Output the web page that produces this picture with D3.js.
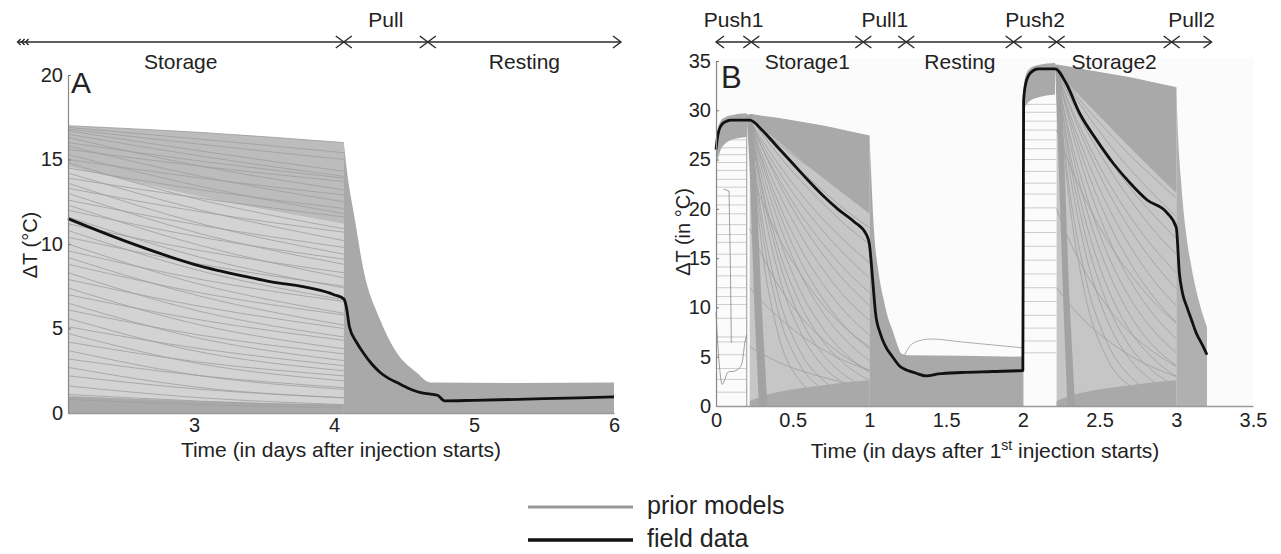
<!DOCTYPE html>
<html>
<head>
<meta charset="utf-8">
<script src="https://cdn.jsdelivr.net/npm/d3@7"></script>
<style>
  body { margin: 0; background: #fff; }
  svg { display: block; font-family: "Liberation Sans", Arial, sans-serif; }
</style>
</head>
<body>
<svg id="chart" width="1281" height="554"></svg>
<script>
// ---------------- Panel A: single storage / pull / resting cycle ----------------
const phaseA_labels = ["Storage", "Pull", "Resting"];
const phaseA_bounds = [1.74, 4.07, 4.67, 6.05];          // days
const ticksA_x = [3, 4, 5, 6];
const ticksA_y = [0, 5, 10, 15, 20];

const fieldA_t = [2.1, 2.5, 3.0, 3.5, 4.0, 4.07, 4.09, 4.11, 4.16, 4.21, 4.27, 4.33, 4.39, 4.45,
                  4.51, 4.56, 4.62, 4.69, 4.74, 4.79, 5.0, 5.5, 6.0];
const fieldA_v = [11.5, 10.2, 8.8, 7.85, 7.0, 6.75, 6.2, 5.1, 4.2, 3.55, 2.9, 2.4, 2.05, 1.8,
                  1.55, 1.36, 1.2, 1.12, 1.05, 0.72, 0.75, 0.85, 0.95];

// prior models during storage: value at storage start, middle, end
const priorA_t = [2.1, 3.05, 4.07];
const priorA_storage = [
  [17.0, 16.6, 16.0], [16.9, 16.2, 15.4], [16.8, 15.9, 15.0], [16.7, 15.5, 14.3],
  [16.5, 15.2, 14.0], [16.3, 14.6, 13.2], [16.0, 14.9, 13.9], [15.8, 14.0, 12.5],
  [15.6, 14.6, 13.7], [15.3, 13.4, 11.8], [15.0, 13.9, 12.9], [14.8, 12.6, 10.9],
  [14.5, 13.2, 12.1], [14.2, 12.0, 10.2], [13.9, 12.7, 11.6], [13.6, 11.2, 9.4],
  [13.3, 11.9, 10.7], [13.0, 10.6, 8.8], [12.6, 11.1, 9.8], [12.3, 9.9, 8.0],
  [12.0, 10.4, 9.1], [11.6, 9.2, 7.4], [11.2, 9.6, 8.3], [10.8, 8.4, 6.7],
  [10.4, 8.8, 7.5], [10.0, 7.6, 5.9], [9.6, 7.9, 6.6], [9.2, 6.9, 5.2],
  [8.8, 7.1, 5.8], [8.3, 6.0, 4.5], [7.9, 6.3, 5.0], [7.4, 5.2, 3.8],
  [7.0, 5.5, 4.3], [6.5, 4.4, 3.1], [6.1, 4.6, 3.5], [5.6, 3.6, 2.5],
  [5.1, 3.8, 2.8], [4.7, 2.9, 1.9], [4.2, 3.0, 2.2], [3.7, 2.2, 1.4],
  [3.2, 2.2, 1.5], [2.7, 1.5, 0.9], [2.2, 1.4, 0.9], [1.6, 0.9, 0.5],
  [1.1, 0.7, 0.4], [0.8, 0.5, 0.3]
];
const bandA_topHi = [17.0, 16.6, 16.0];
const bandA_topLo = [14.6, 12.8, 11.2];
const bandA_bottomHi = [1.0, 0.7, 0.5];

// ensemble envelope through pull and resting
const envA_t = [4.07, 4.09, 4.15, 4.21, 4.33, 4.45, 4.59, 4.69, 5.3, 6.0];
const envA_hi = [16.0, 14.5, 11.4, 8.5, 5.5, 3.55, 2.4, 1.8, 1.78, 1.8];

// ---------------- Panel B: two push / storage / pull cycles ----------------
const phaseB_labels = ["Push1", "Storage1", "Pull1", "Resting", "Push2", "Storage2", "Pull2"];
const phaseB_bounds = [0, 0.23, 0.96, 1.24, 1.94, 2.22, 2.97, 3.23];
const ticksB_x = [0, 0.5, 1, 1.5, 2, 2.5, 3, 3.5];
const ticksB_y = [0, 5, 10, 15, 20, 25, 30, 35];

const fieldB_t = [0, 0.01, 0.02, 0.04, 0.07, 0.1, 0.15, 0.22, 0.3, 0.4, 0.5, 0.6, 0.7, 0.8, 0.9,
                  0.98, 1.0, 1.02, 1.04, 1.07, 1.1, 1.15, 1.2, 1.25, 1.3, 1.37, 1.45, 1.6, 1.8,
                  2.0, 2.005, 2.02, 2.05, 2.1, 2.15, 2.21, 2.28, 2.37, 2.48, 2.59, 2.7, 2.81,
                  2.94, 3.0, 3.02, 3.04, 3.07, 3.1, 3.13, 3.17, 3.2];
const fieldB_v = [26.0, 27.3, 28.0, 28.6, 28.9, 29.0, 29.0, 29.0, 28.0, 26.3, 24.6, 22.9, 21.3,
                  19.9, 18.7, 17.4, 16.4, 13.0, 9.4, 7.4, 6.2, 5.0, 4.0, 3.6, 3.35, 3.05, 3.25,
                  3.4, 3.5, 3.6, 31.0, 32.8, 33.8, 34.2, 34.2, 34.2, 32.8, 29.7, 27.0, 24.6,
                  22.6, 20.9, 19.6, 18.1, 13.5, 11.5, 10.0, 8.7, 7.4, 6.2, 5.2];

// push 1
const push1_t = [0, 0.01, 0.03, 0.06, 0.1, 0.2];
const bandB_push1Hi = [27.0, 28.0, 28.9, 29.3, 29.5, 29.7];
const bandB_push1Lo = [24.5, 25.0, 26.0, 26.6, 27.0, 27.3];
const levelsB_push1 = [27.0, 26.2, 25.5, 24.7, 23.9, 23.0, 22.2, 21.3, 20.4, 19.5, 18.4, 17.4,
                       16.6, 15.4, 14.1, 13.2, 12.0, 11.1, 10.3, 8.9, 7.0, 6.5, 5.2, 3.8, 2.7, 1.4];
const oddB_a_t = [0.0, 0.02, 0.04, 0.06, 0.075, 0.09, 0.11, 0.13, 0.15, 0.17, 0.19, 0.2];
const oddB_a_v = [9.5, 4.5, 2.2, 2.8, 3.4, 3.5, 3.5, 3.6, 3.8, 4.4, 6.6, 7.2];
const oddB_b_t = [0.05, 0.085, 0.095, 0.1];
const oddB_b_v = [22.0, 21.8, 13.0, 6.4];

// storage 1
const storage1_t = [0.22, 0.30, 0.40, 0.55, 0.70, 0.85, 1.0];
const priorB_storage1 = [
  [29.6, 29.4, 29.2, 28.8, 28.4, 27.9, 27.4],
  [29.4, 29.1, 28.7, 28.1, 27.6, 27.0, 26.5],
  [29.5, 29.0, 28.4, 27.5, 26.7, 25.9, 25.1],
  [29.2, 28.5, 27.7, 26.6, 25.5, 24.4, 23.4],
  [29.3, 28.4, 27.4, 25.9, 24.6, 23.2, 22.0],
  [29.0, 28.0, 26.7, 24.9, 23.3, 21.7, 20.3],
  [29.2, 27.8, 26.1, 23.9, 21.8, 19.8, 18.1],
  [29.3, 27.6, 25.6, 22.9, 20.5, 18.3, 16.4],
  [29.0, 27.0, 24.7, 21.6, 18.9, 16.6, 14.5],
  [28.9, 26.6, 24.0, 20.6, 17.7, 15.2, 13.0],
  [28.8, 26.2, 23.3, 19.5, 16.4, 13.7, 11.5],
  [29.2, 26.2, 22.9, 18.7, 15.3, 12.5, 10.2],
  [28.9, 25.5, 21.9, 17.4, 13.8, 10.9, 8.7],
  [28.8, 25.0, 20.9, 16.0, 12.3, 9.4, 7.2],
  [29.1, 24.7, 20.1, 14.7, 10.8, 7.9, 5.8],
  [29.0, 24.0, 19.0, 13.4, 9.4, 6.6, 4.6],
  [28.7, 23.1, 17.6, 11.7, 7.8, 5.2, 3.4],
  [28.5, 22.2, 16.3, 10.3, 6.5, 4.1, 2.6],
  [29.3, 21.9, 15.3, 8.9, 5.2, 3.0, 1.8],
  [29.1, 20.9, 13.8, 7.5, 4.0, 2.2, 1.2],
  [28.6, 19.1, 11.6, 5.5, 2.6, 1.2, 0.6],
  [28.8, 17.9, 9.9, 4.1, 1.7, 0.7, 0.3],
  [29.0, 16.0, 7.6, 2.5, 0.8, 0.3, 0.1],
  [24.0, 20.8, 17.4, 13.4, 10.2, 7.8, 6.0],
  [18.0, 15.3, 12.4, 9.1, 6.7, 4.9, 3.6],
  [12.0, 10.6, 9.1, 7.2, 5.7, 4.5, 3.6],
  [6.0, 5.3, 4.5, 3.6, 2.9, 2.3, 1.8]
];
const bandB_s1Lo = [29.0, 28.1, 26.9, 25.0, 23.1, 21.3, 19.5];
const bandB_s1Bottom = [0.5, 1.0, 1.4, 1.8, 2.1, 2.4, 2.6];
const wedgeB1 = [[0.2, 29.6], [0.235, 29.5], [0.265, 22], [0.295, 11], [0.335, 0],
                 [0.28, 0], [0.25, 10], [0.22, 24]];

// pull 1 and resting
const pull1_t = [1.0, 1.01, 1.03, 1.06, 1.09, 1.12, 1.15, 1.18, 1.21, 1.25, 1.6, 2.0];
const envB_pull1Hi = [27.4, 24.0, 17.8, 13.5, 11.0, 9.0, 7.7, 6.3, 5.3, 5.15, 5.1, 5.0];
const oddB_rest_t = [1.23, 1.27, 1.32, 1.4, 1.6, 1.8, 2.0];
const oddB_rest_v = [5.2, 6.2, 6.6, 6.8, 6.5, 6.2, 5.9];

// push 2
const push2_t = [2.0, 2.005, 2.02, 2.05, 2.1, 2.21];
const bandB_push2Hi = [31.0, 32.2, 33.6, 34.3, 34.6, 34.8];
const bandB_push2Lo = [28.5, 29.5, 30.5, 31.0, 31.3, 31.6];
const levelsB_push2 = [30.6, 29.8, 28.9, 28.0, 27.0, 26.1, 25.0, 23.8, 22.6, 21.5, 20.1, 18.8,
                       17.6, 16.2, 14.8, 13.4, 12.0, 10.6, 9.2, 7.9, 6.6, 5.4];

// storage 2
const storage2_t = [2.22, 2.30, 2.40, 2.55, 2.70, 2.85, 3.0];
const priorB_storage2 = [
  [34.6, 34.4, 34.1, 33.7, 33.3, 32.8, 32.3],
  [34.4, 34.0, 33.6, 32.9, 32.2, 31.6, 31.0],
  [34.5, 33.9, 33.2, 32.2, 31.2, 30.3, 29.3],
  [34.2, 33.4, 32.5, 31.1, 29.8, 28.6, 27.4],
  [34.3, 33.3, 32.1, 30.4, 28.7, 27.2, 25.7],
  [34.0, 32.8, 31.3, 29.2, 27.3, 25.5, 23.8],
  [34.1, 32.5, 30.5, 27.9, 25.4, 23.2, 21.1],
  [34.3, 32.3, 30.0, 26.8, 24.0, 21.5, 19.2],
  [33.9, 31.6, 28.9, 25.3, 22.1, 19.4, 17.0],
  [34.2, 31.5, 28.4, 24.4, 20.9, 17.9, 15.4],
  [33.8, 30.8, 27.4, 22.9, 19.2, 16.1, 13.5],
  [34.1, 30.6, 26.8, 21.9, 17.9, 14.6, 11.9],
  [33.9, 29.9, 25.7, 20.4, 16.2, 12.8, 10.2],
  [34.0, 29.5, 24.7, 18.9, 14.5, 11.1, 8.5],
  [34.2, 29.0, 23.6, 17.3, 12.7, 9.3, 6.8],
  [33.7, 27.9, 22.1, 15.5, 10.9, 7.7, 5.4],
  [34.0, 27.3, 20.8, 13.9, 9.2, 6.1, 4.1],
  [33.6, 26.2, 19.3, 12.1, 7.6, 4.8, 3.0],
  [34.1, 25.5, 17.8, 10.4, 6.0, 3.5, 2.0],
  [33.8, 24.3, 16.1, 8.7, 4.7, 2.5, 1.4],
  [33.5, 22.4, 13.6, 6.4, 3.0, 1.4, 0.7],
  [34.0, 21.2, 11.7, 4.8, 2.0, 0.8, 0.3],
  [28.0, 24.7, 21.2, 16.8, 13.4, 10.6, 8.4],
  [20.0, 16.9, 13.8, 10.1, 7.4, 5.5, 4.0],
  [12.0, 10.4, 8.7, 6.7, 5.1, 3.9, 3.0]
];
const bandB_s2Lo = [33.8, 32.6, 31.0, 28.6, 26.2, 23.9, 21.6];
const bandB_s2Bottom = [0.5, 1.0, 1.4, 1.8, 2.1, 2.4, 2.6];
const wedgeB2 = [[2.21, 34.7], [2.245, 34.3], [2.27, 25], [2.30, 12], [2.34, 0],
                 [2.29, 0], [2.26, 12], [2.23, 26]];

// pull 2
const pull2_t = [3.0, 3.01, 3.03, 3.06, 3.1, 3.15, 3.2];
const envB_pull2Hi = [32.4, 28.0, 23.0, 18.0, 14.0, 10.5, 8.0];

// legend
const legendLabels = ["prior models", "field data"];

// ---------------- drawing ----------------
const DENSE = "#a9a9a9", MID = "#bcbcbc", LIGHT_A = "#d3d3d3", LIGHT_B = "#c6c6c6",
      LINE = "#9e9e9e", TEXT = "#222";
const svg = d3.select("#chart");

const xA = d3.scaleLinear().domain([2.1, 6]).range([68, 614]);
const yA = d3.scaleLinear().domain([0, 20]).range([413, 75]);
const xB = d3.scaleLinear().domain([0, 3.5]).range([716, 1253]);
const yB = d3.scaleLinear().domain([0, 35]).range([406, 61]);

function band(g, x, y, ts, hi, lo, fill) {
  const rows = ts.map((t, i) => ({ t, hi: hi[i], lo: lo ? lo[i] : 0 }));
  g.append("path").datum(rows).attr("fill", fill).attr("stroke", "none")
    .attr("d", d3.area().x(d => x(d.t)).y0(d => y(d.lo)).y1(d => y(d.hi)).curve(d3.curveMonotoneX));
}
function trace(g, x, y, ts, vs, stroke, width, curve) {
  g.append("path").datum(ts.map((t, i) => [t, vs[i]]))
    .attr("fill", "none").attr("stroke", stroke).attr("stroke-width", width)
    .attr("stroke-linejoin", "round")
    .attr("d", d3.line().x(d => x(d[0])).y(d => y(d[1])).curve(curve || d3.curveMonotoneX));
}
function polygon(g, x, y, pts, fill) {
  g.append("path").datum(pts).attr("fill", fill)
    .attr("d", d3.line().x(d => x(d[0])).y(d => y(d[1])).curve(d3.curveLinearClosed));
}
function horizontals(g, x, y, t0, t1, levels, stroke, width) {
  g.selectAll(null).data(levels).enter().append("line")
    .attr("x1", x(t0)).attr("x2", x(t1)).attr("y1", d => y(d)).attr("y2", d => y(d))
    .attr("stroke", stroke).attr("stroke-width", width);
}
function chevron(g, px, py, dir, w, h) {
  g.append("path").attr("fill", "none").attr("stroke", "#2a2a2a").attr("stroke-width", 1.4)
    .attr("d", `M${px + dir * w},${py - h}L${px},${py}L${px + dir * w},${py + h}`);
}
function phases(g, x, bounds, labels, lineY, upperIdx, startStyle) {
  const x0 = x(bounds[0]), x1 = x(bounds[bounds.length - 1]);
  g.append("line").attr("x1", x0).attr("x2", x1).attr("y1", lineY).attr("y2", lineY)
    .attr("stroke", "#2a2a2a").attr("stroke-width", 1.3);
  if (startStyle === "break") {
    [0, 4, 8].forEach(o => chevron(g, x0 + o, lineY, 1, 3, 3));
  } else {
    chevron(g, x0, lineY, 1, 8, 6);
  }
  bounds.slice(1, -1).forEach(b => { chevron(g, x(b), lineY, -1, 8, 6); chevron(g, x(b), lineY, 1, 8, 6); });
  chevron(g, x1, lineY, -1, 8, 6);
  labels.forEach((lab, i) => {
    const cx = (x(bounds[i]) + x(bounds[i + 1])) / 2;
    const up = upperIdx.includes(i);
    g.append("text").attr("x", cx).attr("y", up ? lineY - 15 : lineY + 27)
      .attr("text-anchor", "middle").attr("font-size", 21).attr("fill", TEXT).text(lab);
  });
}
function styleAxis(a) {
  a.select(".domain").attr("stroke", "#888").attr("stroke-width", 1.2);
  a.selectAll(".tick line").attr("stroke", "#777");
  a.selectAll("text").attr("font-size", 20).attr("fill", TEXT).attr("font-family", null);
}

// ----- Panel A -----
const gA = svg.append("g");
band(gA, xA, yA, priorA_t, bandA_topHi, null, LIGHT_A);
band(gA, xA, yA, priorA_t, bandA_topHi, bandA_topLo, MID);
band(gA, xA, yA, priorA_t, bandA_bottomHi, null, DENSE);
priorA_storage.forEach(row => trace(gA, xA, yA, priorA_t, row, LINE, 0.8));
band(gA, xA, yA, envA_t, envA_hi, null, DENSE);
trace(gA, xA, yA, fieldA_t, fieldA_v, "#111", 2.8);

gA.append("g").attr("transform", `translate(${xA(2.1)},0)`)
  .call(d3.axisLeft(yA).tickValues(ticksA_y).tickSizeInner(-3).tickSizeOuter(0).tickPadding(5))
  .call(styleAxis);
gA.append("g").attr("transform", `translate(0,${yA(0)})`)
  .call(d3.axisBottom(xA).tickValues(ticksA_x).tickFormat(d3.format("~g")).tickSize(0).tickPadding(5))
  .call(styleAxis)
  .call(a => a.select(".domain").attr("stroke", "#999").attr("stroke-width", 1.5));

gA.append("text").attr("x", 71).attr("y", 93).attr("font-size", 30).attr("fill", TEXT).text("A");
gA.append("text").attr("transform", `translate(37,245) rotate(-90)`).attr("text-anchor", "middle")
  .attr("font-size", 20).attr("fill", TEXT).text("ΔT (°C)");
gA.append("text").attr("x", (xA(2.1) + xA(6)) / 2).attr("y", 457).attr("text-anchor", "middle")
  .attr("font-size", 21).attr("fill", TEXT).text("Time (in days after injection starts)");
phases(gA, xA, phaseA_bounds, phaseA_labels, 42, [1], "break");

// ----- Panel B -----
const gB = svg.append("g");
gB.append("rect").attr("x", xB(0)).attr("y", 58).attr("width", xB(3.5) - xB(0))
  .attr("height", yB(0) - 58).attr("fill", "#fbfbfb");

// push 1
horizontals(gB, xB, yB, 0.005, 0.2, levelsB_push1, "#b8b8b8", 0.7);
band(gB, xB, yB, push1_t, bandB_push1Hi, bandB_push1Lo, DENSE);
trace(gB, xB, yB, [0.2, 0.2], [0, 29.6], DENSE, 1.2, d3.curveLinear);
trace(gB, xB, yB, oddB_a_t, oddB_a_v, "#777", 0.7);
trace(gB, xB, yB, oddB_b_t, oddB_b_v, "#777", 0.7, d3.curveLinear);

// storage 1
band(gB, xB, yB, storage1_t, priorB_storage1[0], null, LIGHT_B);
priorB_storage1.forEach(row => trace(gB, xB, yB, storage1_t, row, LINE, 0.8));
band(gB, xB, yB, storage1_t, priorB_storage1[0], bandB_s1Lo, DENSE);
band(gB, xB, yB, storage1_t, bandB_s1Bottom, null, DENSE);
polygon(gB, xB, yB, wedgeB1, "#a2a2a2");

// pull 1 + resting
band(gB, xB, yB, pull1_t, envB_pull1Hi, null, DENSE);
trace(gB, xB, yB, oddB_rest_t, oddB_rest_v, "#999", 0.8);

// push 2
horizontals(gB, xB, yB, 2.0, 2.22, levelsB_push2, "#b8b8b8", 0.7);
trace(gB, xB, yB, [2.0, 2.0], [0, 31.0], DENSE, 1.2, d3.curveLinear);
band(gB, xB, yB, push2_t, bandB_push2Hi, bandB_push2Lo, DENSE);

// storage 2
band(gB, xB, yB, storage2_t, priorB_storage2[0], null, LIGHT_B);
priorB_storage2.forEach(row => trace(gB, xB, yB, storage2_t, row, LINE, 0.8));
band(gB, xB, yB, storage2_t, priorB_storage2[0], bandB_s2Lo, DENSE);
band(gB, xB, yB, storage2_t, bandB_s2Bottom, null, DENSE);
polygon(gB, xB, yB, wedgeB2, "#a2a2a2");

// pull 2
band(gB, xB, yB, pull2_t, envB_pull2Hi, null, "#b0b0b0");

trace(gB, xB, yB, fieldB_t, fieldB_v, "#111", 2.8);

gB.append("g").attr("transform", `translate(${xB(0)},0)`)
  .call(d3.axisLeft(yB).tickValues(ticksB_y).tickSizeInner(-3).tickSizeOuter(0).tickPadding(5))
  .call(styleAxis);
gB.append("g").attr("transform", `translate(0,${yB(0)})`)
  .call(d3.axisBottom(xB).tickValues(ticksB_x).tickFormat(d3.format("~g")).tickSize(0).tickPadding(7))
  .call(styleAxis)
  .call(a => a.select(".domain").attr("stroke", "#999").attr("stroke-width", 1.5));

gB.append("text").attr("x", 721).attr("y", 88).attr("font-size", 31).attr("fill", TEXT).text("B");
gB.append("text").attr("transform", `translate(690,232) rotate(-90)`).attr("text-anchor", "middle")
  .attr("font-size", 20).attr("fill", TEXT).text("ΔT (in °C)");
const tB = gB.append("text").attr("x", 985).attr("y", 458).attr("text-anchor", "middle")
  .attr("font-size", 21).attr("fill", TEXT);
tB.append("tspan").text("Time (in days after 1");
tB.append("tspan").attr("dy", -8).attr("font-size", 14).text("st");
tB.append("tspan").attr("dy", 8).text(" injection starts)");
phases(gB, xB, phaseB_bounds, phaseB_labels, 42, [0, 2, 4, 6], "arrow");

// ----- legend -----
const lg = svg.append("g");
const legendStyles = [{ stroke: "#999", w: 3 }, { stroke: "#111", w: 3.5 }];
legendLabels.forEach((lab, i) => {
  const ly = 507 + i * 33;
  lg.append("line").attr("x1", 528).attr("x2", 633).attr("y1", ly).attr("y2", ly)
    .attr("stroke", legendStyles[i].stroke).attr("stroke-width", legendStyles[i].w);
  lg.append("text").attr("x", 647).attr("y", ly + 7).attr("font-size", 25).attr("fill", TEXT).text(lab);
});
</script>
</body>
</html>
